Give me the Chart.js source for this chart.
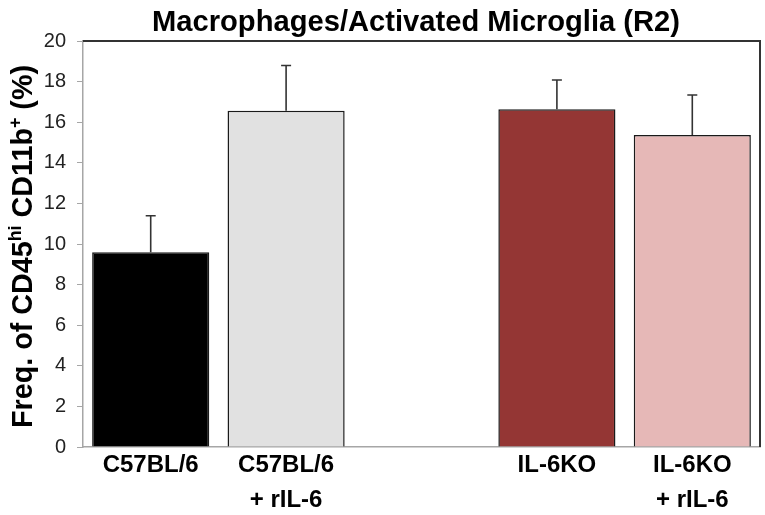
<!DOCTYPE html>
<html>
<head>
<meta charset="utf-8">
<script src="https://cdn.jsdelivr.net/npm/chart.js@4"></script>
<style>
  html, body { margin: 0; padding: 0; background: #fff; }
  #wrap { width: 765px; height: 515px; }
</style>
</head>
<body>
<div id="wrap"><canvas id="chart" width="765" height="515"></canvas></div>
<script>
const groups = [['C57BL/6'], ['C57BL/6', '+ rIL-6'], '', ['IL-6KO'], ['IL-6KO', '+ rIL-6']];
const means = [9.59, 16.57, null, 16.64, 15.37];
const errors = [1.80, 2.22, null, 1.44, 1.97];
const barColors = ['#000000', '#e1e1e1', '#ffffff', '#943634', '#e6b8b7'];
const yTicks = [0, 2, 4, 6, 8, 10, 12, 14, 16, 18, 20];

const FONT = "'Liberation Sans', Arial, sans-serif";

// draws text scaled along its length so it fills a target width
function fitText(ctx, text, x, y, font, target) {
    ctx.font = font;
    const w = ctx.measureText(text).width;
    ctx.save();
    ctx.translate(x, y);
    ctx.scale(target / w, 1);
    ctx.fillText(text, 0, 0);
    ctx.restore();
}

const decorPlugin = {
    id: 'decor',
    afterDatasetsDraw(chart) {
        const ctx = chart.ctx;
        const x = chart.scales.x, y = chart.scales.y;
        const area = chart.chartArea;

        // error bars, upper side only
        ctx.save();
        ctx.strokeStyle = '#333';
        ctx.lineWidth = 1.6;
        means.forEach((m, i) => {
            if (m === null) return;
            const px = x.getPixelForValue(i);
            const top = y.getPixelForValue(m + errors[i]);
            const base = y.getPixelForValue(m);
            ctx.beginPath();
            ctx.moveTo(px, base);
            ctx.lineTo(px, top);
            ctx.moveTo(px - 5, top);
            ctx.lineTo(px + 5, top);
            ctx.stroke();
        });

        // top and right frame
        ctx.strokeStyle = '#333';
        ctx.lineWidth = 2;
        ctx.beginPath();
        ctx.moveTo(area.left, area.top);
        ctx.lineTo(area.right, area.top);
        ctx.lineTo(area.right, area.bottom);
        ctx.stroke();
        ctx.restore();
    },
    afterDraw(chart) {
        const ctx = chart.ctx;
        ctx.save();
        ctx.fillStyle = '#000';
        ctx.textBaseline = 'alphabetic';
        ctx.textAlign = 'left';

        // title
        const tW = 528;
        fitText(ctx, 'Macrophages/Activated Microglia (R2)', 416 - tW / 2, 31,
            'bold 29px ' + FONT, tW);

        // y axis title with superscripts
        const parts = [
            ['Freq. of CD45', 29, 0],
            ['hi', 18, -11],
            [' CD11b', 29, 0],
            ['+', 18, -11],
            [' (%)', 29, 0]
        ];
        let total = 0;
        parts.forEach(p => {
            ctx.font = 'bold ' + p[1] + 'px ' + FONT;
            total += ctx.measureText(p[0]).width;
        });
        const target = 363;
        const k = target / total;
        ctx.translate(32, 428);
        ctx.rotate(-Math.PI / 2);
        ctx.scale(k, 1);
        let cx = 0;
        parts.forEach(p => {
            ctx.font = 'bold ' + p[1] + 'px ' + FONT;
            ctx.fillText(p[0], cx, p[2]);
            cx += ctx.measureText(p[0]).width;
        });
        ctx.restore();
    }
};

new Chart(document.getElementById('chart').getContext('2d'), {
    type: 'bar',
    data: {
        labels: groups,
        datasets: [{
            data: means,
            backgroundColor: barColors,
            borderColor: '#1a1a1a',
            borderWidth: 1.5,
            barPercentage: 0.865,
            categoryPercentage: 1.0
        }]
    },
    options: {
        responsive: false,
        animation: false,
        layout: { padding: { top: 41, right: 5, left: 0, bottom: 0 } },
        plugins: {
            legend: { display: false },
            title: { display: false },
            tooltip: { enabled: false }
        },
        scales: {
            x: {
                grid: { display: false },
                border: { display: true, color: '#a6a6a6', width: 1.5 },
                ticks: {
                    color: '#000',
                    font: { family: FONT, size: 24, weight: 'bold', lineHeight: 1.46 },
                    padding: -7,
                    maxRotation: 0,
                    autoSkip: false
                },
                afterFit(scale) { scale.height = 68; }
            },
            y: {
                min: 0,
                max: 20,
                afterBuildTicks(scale) { scale.ticks = yTicks.map(v => ({ value: v })); },
                grid: {
                    display: true,
                    drawOnChartArea: false,
                    drawTicks: true,
                    tickLength: 6,
                    color: '#a6a6a6'
                },
                border: { display: true, color: '#a6a6a6', width: 1.5 },
                ticks: {
                    color: '#222',
                    font: { family: FONT, size: 20 },
                    padding: 11
                },
                afterFit(scale) { scale.width = 83; }
            }
        }
    },
    plugins: [decorPlugin]
});
</script>
</body>
</html>
